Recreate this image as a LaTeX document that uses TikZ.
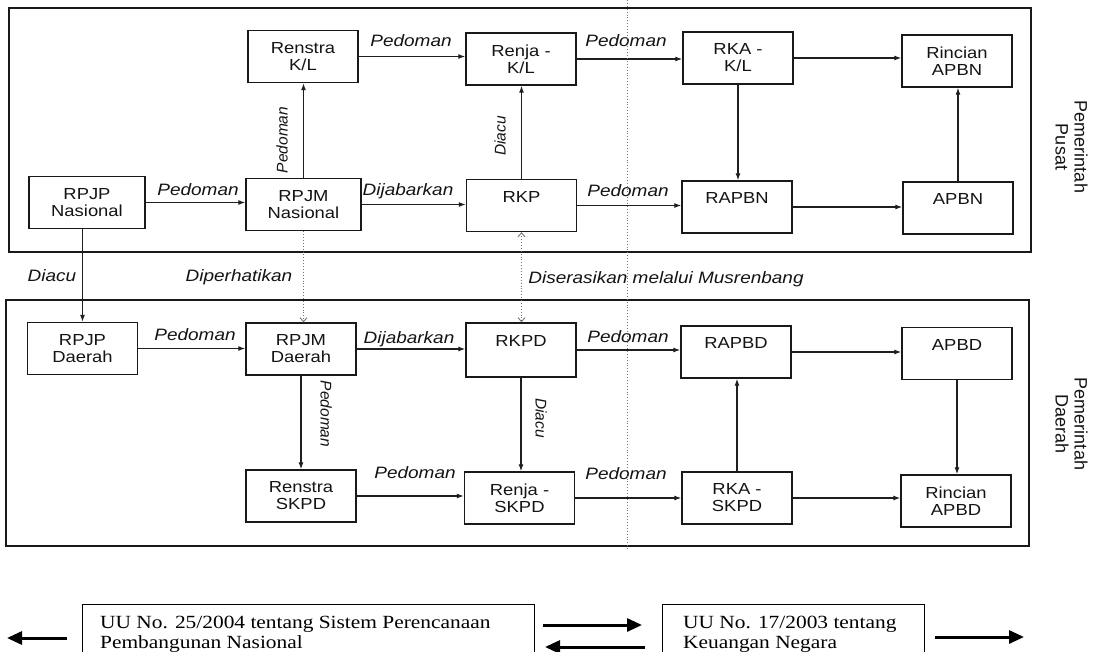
\documentclass[tikz,border=0pt]{standalone}
\usepackage{fontspec}
\setmainfont{Liberation Sans}
\newfontfamily\bxfont{Liberation Sans}[FakeStretch=1.15]
\newfontfamily\rtfont{Liberation Sans}
\newfontfamily\lawfont{Liberation Serif}[FakeStretch=1.15]
\usetikzlibrary{arrows.meta}
\begin{document}
\begin{tikzpicture}[x=1pt,y=-1pt,
  bx/.style={draw=black!90, line width=1.4pt, minimum width=110pt, minimum height=52pt,
    inner sep=0pt, align=center, font=\bxfont\fontsize{16}{17}\selectfont, text=black!92},
  lbl/.style={font=\bxfont\itshape\fontsize{16.5}{18}\selectfont, text=black!92,
    inner sep=0pt, text height=11.5pt, text depth=0pt},
  vlbl/.style={font=\rtfont\itshape\fontsize{15.5}{17}\selectfont, text=black!92,
    inner sep=0pt, text height=11pt, text depth=0pt},
  side/.style={font=\rtfont\fontsize{18}{19}\selectfont, text=black!92, align=center,
    inner sep=0pt, rotate=-90},
  arr/.style={draw=black!88, line width=1.1pt, -{Latex[length=7pt,width=5pt]}},
  dotarr/.style={draw=black!55, line width=0.9pt, dotted, -{Straight Barb[length=4pt,width=7pt]}},
  dotarrb/.style={draw=black!55, line width=0.9pt, dotted, {Straight Barb[length=4pt,width=7pt]}-{Straight Barb[length=4pt,width=7pt]}},
  dotline/.style={draw=black!55, line width=0.9pt, dotted},
  frm/.style={draw=black!90, line width=1.6pt},
  lawbox/.style={draw=black, line width=1.3pt, inner sep=0pt},
  lawtx/.style={font=\lawfont\fontsize{18.6}{20}\selectfont, align=left, inner sep=0pt},
  thick arr/.style={draw=black, line width=3pt, -{Triangle[length=15pt,width=13pt]}}
]
\useasboundingbox (0,0) rectangle (1103,651);
\fill[white] (0,0) rectangle (1103,651);

% frames
\draw[frm] (9,8) rectangle (1031,252);
\draw[frm] (6,300) rectangle (1029,546);

% top row
\node[bx] (RenstraKL) at (303,56.5) {Renstra\\K/L};
\node[bx] (RenjaKL) at (521,59) {Renja -\\K/L};
\node[bx] (RKAKL) at (738,58) {RKA -\\K/L};
\node[bx] (RincianAPBN) at (957,61) {Rincian\\APBN};
% second row
\node[bx, minimum width=116pt] (RPJPN) at (87,202.5) {RPJP\\Nasional};
\node[bx, minimum width=115pt] (RPJMN) at (303.5,204.5) {RPJM\\Nasional};
\node[bx] (RKP) at (521.5,205.5) {RKP\\\phantom{K/L}};
\node[bx] (RAPBN) at (737,207) {RAPBN\\\phantom{K/L}};
\node[bx] (APBN) at (958,208) {APBN\\\phantom{K/L}};
% third row
\node[bx] (RPJPD) at (82.5,348.5) {RPJP\\Daerah};
\node[bx] (RPJMD) at (301,349) {RPJM\\Daerah};
\node[bx, minimum height=54pt] (RKPD) at (521,350) {RKPD\\\phantom{K/L}};
\node[bx] (RAPBD) at (736,352) {RAPBD\\\phantom{K/L}};
\node[bx] (APBD) at (957,353.5) {APBD\\\phantom{K/L}};
% fourth row
\node[bx] (RenstraS) at (301,496) {Renstra\\SKPD};
\node[bx] (RenjaS) at (519.5,498) {Renja -\\SKPD};
\node[bx] (RKAS) at (737,498) {RKA -\\SKPD};
\node[bx] (RincianD) at (956,501) {Rincian\\APBD};

% side labels
\node[side] (pusat) at (1071.5,147) {Pemerintah\\Pusat};
\node[side] (daerah) at (1071.5,424) {Pemerintah\\Daerah};

% top connectors
\draw[arr] (RenstraKL.east) -- (RenstraKL.east -| RenjaKL.west);
\draw[arr] (RenjaKL.east) -- (RenjaKL.east -| RKAKL.west);
\draw[arr] (RKAKL.east) -- (RKAKL.east -| RincianAPBN.west);
\draw[arr] (RPJPN.east) -- (RPJPN.east -| RPJMN.west);
\draw[arr] (RPJMN.east) -- (RPJMN.east -| RKP.west);
\draw[arr] (RKP.east) -- (RKP.east -| RAPBN.west);
\draw[arr] (RAPBN.east) -- (RAPBN.east -| APBN.west);
\draw[arr] (RPJMN.north) -- (RPJMN.north |- RenstraKL.south);
\draw[arr] (RKP.north) -- (RKP.north |- RenjaKL.south);
\draw[arr] (RKAKL.south) -- (RKAKL.south |- RAPBN.north);
\draw[arr] (APBN.north) -- (APBN.north |- RincianAPBN.south);
% between
\draw[arr] (RPJPN.south -| RPJPD.north) -- (RPJPD.north);
\draw[dotarr] (RPJMN.south) -- (RPJMN.south |- RPJMD.north);
\draw[dotarrb] (RKP.south) -- (RKP.south |- RKPD.north);
% bottom connectors
\draw[arr] (RPJPD.east) -- (RPJPD.east -| RPJMD.west);
\draw[arr] (RPJMD.east) -- (RPJMD.east -| RKPD.west);
\draw[arr] (RKPD.east) -- (RKPD.east -| RAPBD.west);
\draw[arr] (RAPBD.east) -- (RAPBD.east -| APBD.west);
\draw[arr] (RPJMD.south) -- (RPJMD.south |- RenstraS.north);
\draw[arr] (RKPD.south) -- (RKPD.south |- RenjaS.north);
\draw[arr] (RKAS.north) -- (RKAS.north |- RAPBD.south);
\draw[arr] (APBD.south) -- (APBD.south |- RincianD.north);
\draw[arr] (RenstraS.east) -- (RenstraS.east -| RenjaS.west);
\draw[arr] (RenjaS.east) -- (RenjaS.east -| RKAS.west);
\draw[arr] (RKAS.east) -- (RKAS.east -| RincianD.west);

% labels
\node[lbl] (l1) at (411,41) {Pedoman};
\node[lbl] (l2) at (626,41) {Pedoman};
\node[lbl] (l3) at (198,190) {Pedoman};
\node[lbl] (l4) at (408,190) {Dijabarkan};
\node[lbl] (l5) at (628,191) {Pedoman};
\node[lbl] (l6) at (52,276) {Diacu};
\node[lbl] (l7) at (239,276) {Diperhatikan};
\node[lbl] (l8) at (666,278) {Diserasikan melalui Musrenbang};
\node[lbl] (l9) at (195,335) {Pedoman};
\node[lbl] (l10) at (409,338) {Dijabarkan};
\node[lbl] (l11) at (628,337) {Pedoman};
\node[lbl] (l12) at (415,473) {Pedoman};
\node[lbl] (l13) at (626,474) {Pedoman};
\node[vlbl, rotate=90] (v1) at (282,140) {Pedoman};
\node[vlbl, rotate=90] (v2) at (500,136) {Diacu};
\node[vlbl, rotate=-90] (v3) at (326,414) {Pedoman};
\node[vlbl, rotate=-90] (v4) at (541,418) {Diacu};

% vertical dotted divider
\coordinate (divtop) at (627,0);
\coordinate (divbot) at (627,550);
\draw[dotline] (divtop) -- (divbot);

% legend
\node[lawbox, minimum width=452pt, minimum height=90pt, anchor=north west] (law1) at (82,604) {};
\node[lawtx, anchor=base west] (law1t) at (100,648) {UU No. 25/2004 tentang Sistem Perencanaan\\Pembangunan Nasional};
\node[lawbox, minimum width=262pt, minimum height=90pt, anchor=north west] (law2) at (662,604) {};
\node[lawtx, anchor=base west] (law2t) at (683,648) {UU No. 17/2003 tentang\\Keuangan Negara};

\coordinate (a1s) at (67,638);
\coordinate (a1e) at (7,638);
\coordinate (a2s) at (543,625);
\coordinate (a2e) at (642,625);
\coordinate (a3s) at (645,647);
\coordinate (a3e) at (545,647);
\coordinate (a4s) at (935,637);
\coordinate (a4e) at (1024,637);
\draw[thick arr] (a1s) -- (a1e);
\draw[thick arr] (a2s) -- (a2e);
\draw[thick arr] (a3s) -- (a3e);
\draw[thick arr] (a4s) -- (a4e);
\end{tikzpicture}
\end{document}
